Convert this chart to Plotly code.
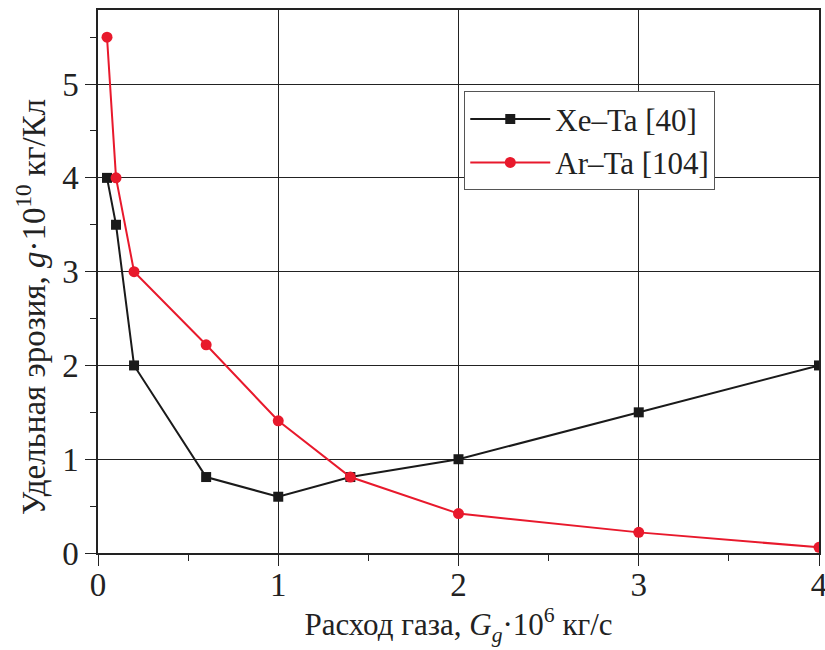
import plotly.graph_objects as go

xe_x = [0.05, 0.1, 0.2, 0.6, 1.0, 1.4, 2.0, 3.0, 4.0]
xe_y = [4.0, 3.5, 2.0, 0.81, 0.6, 0.81, 1.0, 1.5, 2.0]
ar_x = [0.05, 0.1, 0.2, 0.6, 1.0, 1.4, 2.0, 3.0, 4.0]
ar_y = [5.5, 4.0, 3.0, 2.22, 1.41, 0.81, 0.42, 0.22, 0.06]
x_ticks = [0, 1, 2, 3, 4]
y_ticks = [0, 1, 2, 3, 4, 5]

FONT = "Liberation Serif"

fig = go.Figure()
fig.add_trace(go.Scatter(x=xe_x, y=xe_y, mode="lines+markers", name="Xe–Ta [40]",
                         line=dict(color="#1a1a1a", width=2),
                         marker=dict(symbol="square", size=10, color="#1a1a1a")))
fig.add_trace(go.Scatter(x=ar_x, y=ar_y, mode="lines+markers", name="Ar–Ta [104]",
                         line=dict(color="#e8192c", width=2),
                         marker=dict(symbol="circle", size=11, color="#e8192c")))

axis_common = dict(showline=True, linecolor="#222", linewidth=1.5, mirror=True,
                   showgrid=True, gridcolor="#222", gridwidth=1,
                   ticks="outside", ticklen=11, tickwidth=1.2, tickcolor="#222",
                   zeroline=False, automargin=False, ticklabeloverflow="allow",
                   tickfont=dict(family=FONT, size=33, color="#222"))

fig.update_xaxes(range=[0, 4], tickvals=x_ticks, ticktext=[str(v) for v in x_ticks],
                 ticklabelstandoff=-9,
                 minor=dict(dtick=0.5, tick0=0, ticks="outside", ticklen=6, tickcolor="#222", showgrid=False),
                 title=dict(text="Расход газа, <i>G</i><sub><i>g</i></sub>·10<sup>6</sup> кг/с",
                            font=dict(family=FONT, size=31, color="#222"), standoff=4),
                 **axis_common)
fig.update_yaxes(range=[0, 5.79], tickvals=y_ticks, ticktext=[str(v) for v in y_ticks],
                 minor=dict(dtick=0.5, tick0=0, ticks="outside", ticklen=6, tickcolor="#222", showgrid=False),
                 **axis_common)

fig.add_annotation(text="Удельная эрозия, <i>g</i>·10<sup>10</sup> кг/Кл",
                   xref="paper", yref="paper", x=-0.093, y=0.453,
                   xanchor="center", yanchor="middle", textangle=-90, showarrow=False,
                   font=dict(family=FONT, size=33, color="#222"))

fig.update_layout(width=825, height=650, paper_bgcolor="white", plot_bgcolor="white",
                  margin=dict(l=98, r=6, t=10, b=97),
                  font=dict(family=FONT, color="#222"),
                  showlegend=True,
                  legend=dict(x=0.508, y=0.85, xanchor="left", yanchor="top",
                              bgcolor="white", bordercolor="#555", borderwidth=1,
                              font=dict(family=FONT, size=31, color="#222"),
                              itemwidth=80, tracegroupgap=0))

fig.write_html("out.html")
